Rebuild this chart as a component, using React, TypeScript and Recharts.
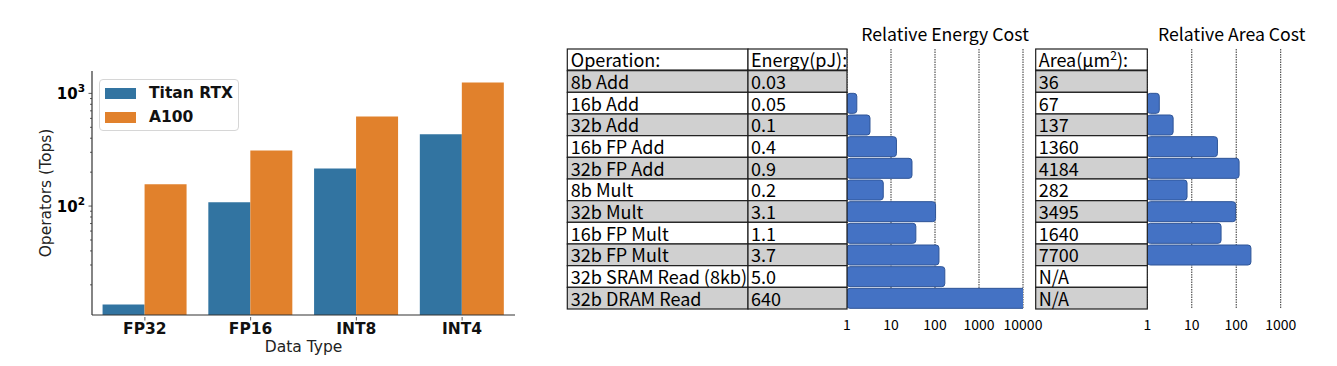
import { Bar, BarChart, CartesianGrid, Legend, XAxis, YAxis } from 'recharts';

// left panel: peak throughput, log scale
const dataTypes = ['FP32', 'FP16', 'INT8', 'INT4'];
const titanRtxTops = [13.4, 108, 216, 433];
const a100Tops = [156, 312, 625, 1250];
const topsTicks = [20, 30, 40, 50, 60, 70, 80, 90, 100, 200, 300, 400, 500, 600, 700, 800, 900, 1000];

// right panels: energy / area table
const operations = [
  '8b Add',
  '16b Add',
  '32b Add',
  '16b FP Add',
  '32b FP Add',
  '8b Mult',
  '32b Mult',
  '16b FP Mult',
  '32b FP Mult',
  '32b SRAM Read (8kb)',
  '32b DRAM Read',
];
const energyPj = ['0.03', '0.05', '0.1', '0.4', '0.9', '0.2', '3.1', '1.1', '3.7', '5.0', '640'];
const relEnergy = [1, 1.67, 3.33, 13.3, 30, 6.67, 103, 36.7, 123, 167, 21333];
const areaUm2 = ['36', '67', '137', '1360', '4184', '282', '3495', '1640', '7700', 'N/A', 'N/A'];
const relArea = [1, 1.86, 3.81, 37.8, 116, 7.83, 97.1, 45.6, 214, null, null];
const energyTicks = [1, 10, 100, 1000, 10000];
const areaTicks = [1, 10, 100, 1000];

const LEFT_FONT = '"DejaVu Sans", sans-serif';
const CJK_FONT = '"Noto Sans CJK SC", sans-serif';
const ROW = 260 / 12;
const GRAY = '#d0d0d0';
const LINE = '#1e1e1e';
const CELL_FONT = 18;

const gpuData = dataTypes.map((type, i) => ({ type, titan: titanRtxTops[i], a100: a100Tops[i] }));

const energyRows = [
  { op: 'Operation:', pj: 'Energy(pJ):', rel: null as number | null },
  ...operations.map((op, i) => ({ op, pj: energyPj[i], rel: relEnergy[i] as number | null })),
];
const areaRows = [
  { op: 'Operation:', area: '', rel: null as number | null },
  ...operations.map((op, i) => ({ op, area: areaUm2[i], rel: relArea[i] })),
];

function TopsTick({ x, y, payload }: any) {
  const v = payload.value;
  const major = v === 100 || v === 1000;
  return (
    <g>
      <line x1={x - (major ? 3.5 : 2)} x2={x} y1={y} y2={y} stroke="#333" strokeWidth={0.8} />
      {major && (
        <text x={x - 7} y={y} dy={5.5} textAnchor="end" fontFamily={LEFT_FONT} fontWeight="bold" fontSize={15} fill="#000">
          <tspan>10</tspan>
          <tspan dy={-7} fontSize={10.5}>
            {v === 100 ? '2' : '3'}
          </tspan>
        </text>
      )}
    </g>
  );
}

function TypeTick({ x, y, payload }: any) {
  return (
    <g>
      <line x1={x} x2={x} y1={y - 5.5} y2={y - 2} stroke="#333" strokeWidth={0.8} />
      <text x={x} y={y} dy={11.5} textAnchor="middle" fontFamily={LEFT_FONT} fontWeight="bold" fontSize={15.5} fill="#111">
        {payload.value}
      </text>
    </g>
  );
}

function GpuLegend() {
  const items = [
    { name: 'Titan RTX', color: '#3274a1' },
    { name: 'A100', color: '#e1812c' },
  ];
  return (
    <div
      style={{
        width: 140,
        height: 52,
        boxSizing: 'border-box',
        border: '1px solid #d6d6d6',
        borderRadius: 4,
        background: 'rgba(255,255,255,0.85)',
        position: 'relative',
        fontFamily: LEFT_FONT,
      }}
    >
      {items.map((it, i) => (
        <div key={it.name} style={{ position: 'absolute', left: 0, top: 2 + i * 24, height: 22, display: 'flex', alignItems: 'center' }}>
          <span style={{ display: 'inline-block', marginLeft: 5, width: 31, height: 11, background: it.color }} />
          <span style={{ marginLeft: 13, fontWeight: 'bold', fontSize: 15.5, color: '#111' }}>{it.name}</span>
        </div>
      ))}
    </div>
  );
}

function EnergyRowTick({ x, y, payload }: any) {
  const i = energyRows.findIndex((r) => r.op === payload.value);
  const row = energyRows[i];
  const top = y - ROW / 2;
  const fill = i % 2 === 1 ? GRAY : '#ffffff';
  const left = x - 279.7;
  const mid = x - 99;
  return (
    <g>
      <rect x={left} y={top} width={mid - left} height={ROW} fill={fill} stroke={LINE} strokeWidth={1.2} />
      <rect x={mid} y={top} width={x - mid} height={ROW} fill={fill} stroke={LINE} strokeWidth={1.2} />
      <text x={left + 3.5} y={top + ROW - 3.5} fontFamily={CJK_FONT} fontSize={CELL_FONT} fill="#000">
        {row.op}
      </text>
      <text x={mid + 3} y={top + ROW - 3.5} fontFamily={CJK_FONT} fontSize={CELL_FONT} fill="#000">
        {row.pj}
      </text>
      {i === 0 && <line x1={left} x2={x} y1={top + ROW} y2={top + ROW} stroke="#000" strokeWidth={2.2} />}
    </g>
  );
}

function AreaRowTick({ x, y, payload }: any) {
  const i = areaRows.findIndex((r) => r.op === payload.value);
  const row = areaRows[i];
  const top = y - ROW / 2;
  const fill = i % 2 === 1 ? GRAY : '#ffffff';
  const left = x - 111.6;
  return (
    <g>
      <rect x={left} y={top} width={x - left} height={ROW} fill={fill} stroke={LINE} strokeWidth={1.2} />
      {i === 0 ? (
        <text x={left + 3} y={top + ROW - 3.5} fontFamily={CJK_FONT} fontSize={CELL_FONT} fill="#000">
          <tspan>Area(μm</tspan>
          <tspan dy={-7} fontSize={12}>
            2
          </tspan>
          <tspan dy={7}>):</tspan>
        </text>
      ) : (
        <text x={left + 3} y={top + ROW - 3.5} fontFamily={CJK_FONT} fontSize={CELL_FONT} fill="#000">
          {row.area}
        </text>
      )}
      {i === 0 && <line x1={left} x2={x} y1={top + ROW} y2={top + ROW} stroke="#000" strokeWidth={2.2} />}
    </g>
  );
}

function LogTick({ x, y, payload }: any) {
  return (
    <text x={x} y={y} dy={21} textAnchor="middle" fontFamily={CJK_FONT} fontSize={14} fill="#000">
      {payload.value}
    </text>
  );
}

function GpuChart() {
  return (
    <BarChart
      width={540}
      height={366}
      data={gpuData}
      margin={{ top: 71, right: 25, bottom: 0, left: 0 }}
      barCategoryGap="10%"
      barGap={0}
    >
      <XAxis
        dataKey="type"
        height={51}
        tickSize={5.5}
        tickLine={false}
        tick={<TypeTick />}
        axisLine={{ stroke: '#333', strokeWidth: 1.2 }}
        label={{ value: 'Data Type', position: 'insideBottom', offset: 14, fontFamily: LEFT_FONT, fontSize: 15.5, fill: '#222' }}
      />
      <YAxis
        width={92}
        scale="log"
        type="number"
        domain={[10.8, 1580]}
        allowDataOverflow
        ticks={topsTicks}
        interval={0}
        tickSize={0}
        tickMargin={0}
        tickLine={false}
        tick={<TopsTick />}
        axisLine={{ stroke: '#333', strokeWidth: 1.2 }}
        label={{ value: 'Operators (Tops)', angle: -90, position: 'center', dx: -1, fontFamily: LEFT_FONT, fontSize: 15.5, fill: '#222' }}
      />
      <Legend
        layout="vertical"
        align="center"
        verticalAlign="middle"
        content={() => <GpuLegend />}
        wrapperStyle={{ left: 99, top: 79, width: 140, height: 52 }}
      />
      <Bar dataKey="titan" name="Titan RTX" fill="#3274a1" isAnimationActive={false} />
      <Bar dataKey="a100" name="A100" fill="#e1812c" isAnimationActive={false} />
    </BarChart>
  );
}

function EnergyChart() {
  return (
    <BarChart
      layout="vertical"
      width={490}
      height={366}
      data={energyRows}
      margin={{ top: 49, right: 27, bottom: 0, left: 0 }}
      barCategoryGap={1}
    >
      <CartesianGrid horizontal={false} stroke="#333" strokeDasharray="1.5 1" />
      <XAxis
        type="number"
        scale="log"
        domain={[1, 10000]}
        allowDataOverflow
        ticks={energyTicks}
        interval={0}
        height={57}
        tickSize={0}
        tickMargin={0}
        axisLine={false}
        tickLine={false}
        tick={<LogTick />}
      />
      <YAxis
        type="category"
        dataKey="op"
        width={287}
        interval={0}
        tickSize={0}
        tickMargin={0}
        axisLine={false}
        tickLine={false}
        tick={<EnergyRowTick />}
      />
      <Bar dataKey="rel" fill="#4472c4" stroke="#2f5597" strokeWidth={1} radius={3} isAnimationActive={false} />
      <text x={385} y={40.7} textAnchor="middle" fontFamily={CJK_FONT} fontSize={17.7} fill="#000">
        Relative Energy Cost
      </text>
    </BarChart>
  );
}

function AreaChart() {
  return (
    <BarChart
      layout="vertical"
      width={307}
      height={366}
      data={areaRows}
      margin={{ top: 49, right: 56.3, bottom: 0, left: 0 }}
      barCategoryGap={1}
    >
      <CartesianGrid horizontal={false} stroke="#333" strokeDasharray="1.5 1" />
      <XAxis
        type="number"
        scale="log"
        domain={[1, 1000]}
        allowDataOverflow
        ticks={areaTicks}
        interval={0}
        height={57}
        tickSize={0}
        tickMargin={0}
        axisLine={false}
        tickLine={false}
        tick={<LogTick />}
      />
      <YAxis
        type="category"
        dataKey="op"
        width={117.3}
        interval={0}
        tickSize={0}
        tickMargin={0}
        axisLine={false}
        tickLine={false}
        tick={<AreaRowTick />}
      />
      <Bar dataKey="rel" fill="#4472c4" stroke="#2f5597" strokeWidth={1} radius={3} isAnimationActive={false} />
      <text x={201.7} y={40.7} textAnchor="middle" fontFamily={CJK_FONT} fontSize={17.7} fill="#000">
        Relative Area Cost
      </text>
    </BarChart>
  );
}

export default function App() {
  return (
    <div style={{ position: 'absolute', left: 0, top: 0, width: 1337, height: 366, background: '#fff', overflow: 'hidden' }}>
      <div style={{ position: 'absolute', left: 0, top: 0 }}>
        <GpuChart />
      </div>
      <div style={{ position: 'absolute', left: 560, top: 0 }}>
        <EnergyChart />
      </div>
      <div style={{ position: 'absolute', left: 1030, top: 0 }}>
        <AreaChart />
      </div>
    </div>
  );
}
